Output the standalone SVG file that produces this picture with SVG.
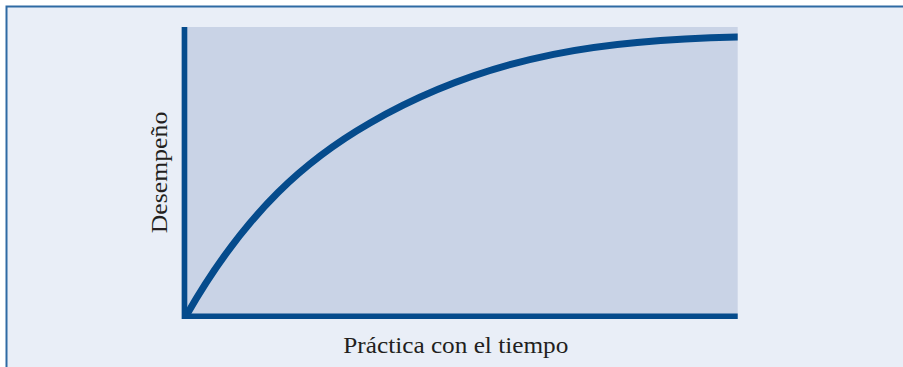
<svg xmlns="http://www.w3.org/2000/svg" width="903" height="367" viewBox="0 0 903 367">
<style>
.lbl{font-family:"Liberation Serif","Times New Roman",serif;font-size:24px;fill:#231f20}
.axis{stroke:#054b8c;stroke-width:5.6;fill:none;stroke-linecap:butt}
.curve{stroke:#054b8c;stroke-width:7;fill:none;stroke-linecap:butt}
</style>
<defs>
<clipPath id="plotclip"><rect x="184" y="27" width="553.7" height="290"/></clipPath>
</defs>
<rect x="0" y="0" width="903" height="367" fill="#ffffff"/>
<g id="frame">
<rect x="6.5" y="6.5" width="900" height="370" fill="#e9eef7" stroke="#2f6aa3" stroke-width="2"/>
</g>
<g id="plot">
<rect x="181.5" y="27" width="556.2" height="292" fill="#c9d3e6"/>
</g>
<g id="curve">
<path class="curve" clip-path="url(#plotclip)" d="M183.4,320.9 L186,316 C247,209 309,158 370,123 C492,52.2 615,39.4 737,37 L742,37"/>
</g>
<g id="connectors">
<path class="axis" d="M184.5,27 L184.5,319 M181.7,316.3 L737.7,316.3"/>
</g>
<g id="labels">
<text class="lbl" x="343.3" y="353.3" textLength="225" lengthAdjust="spacingAndGlyphs">Práctica con el tiempo</text>
<text class="lbl" transform="translate(167,233.3) rotate(-90)" x="0" y="0" textLength="121.6" lengthAdjust="spacingAndGlyphs">Desempeño</text>
</g>
</svg>
